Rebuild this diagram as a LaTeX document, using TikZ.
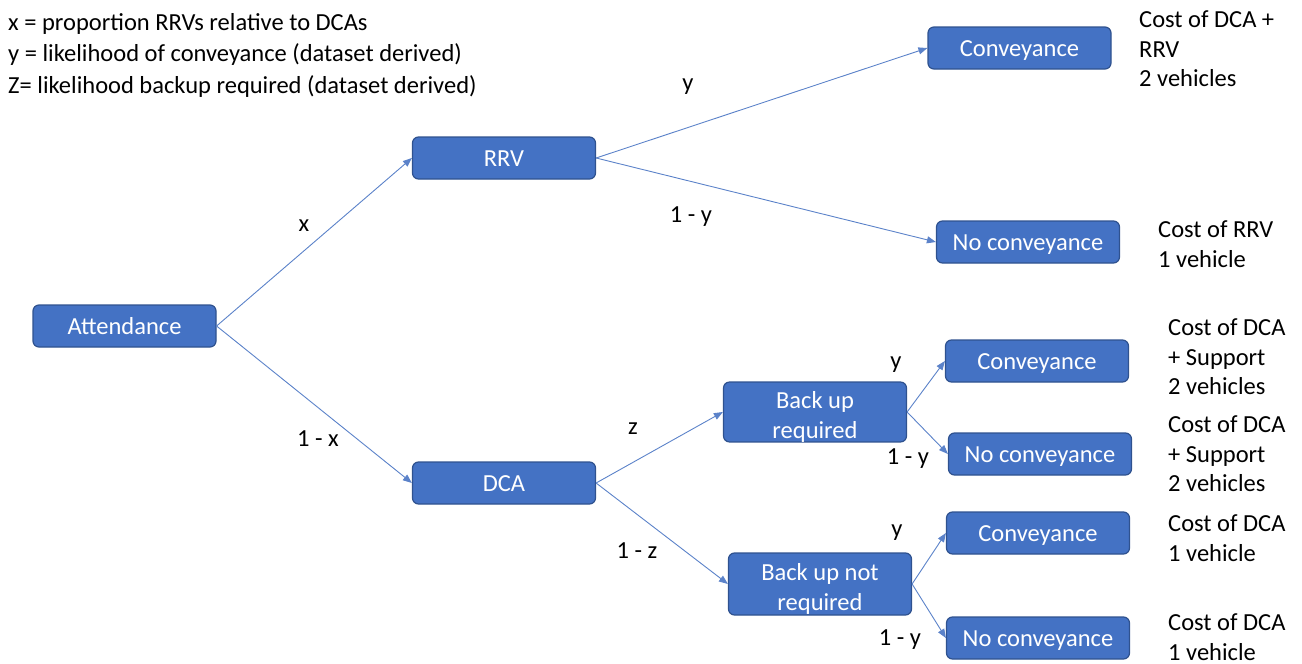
\documentclass[tikz,border=0pt]{standalone}
\usepackage{fontspec}
\setmainfont{Carlito}
\usetikzlibrary{arrows.meta}
\definecolor{boxfill}{HTML}{4472C4}
\definecolor{boxline}{HTML}{2F528F}
\definecolor{edgecol}{HTML}{5B82C9}
\tikzset{
  box/.style={draw=boxline, line width=1.2pt, fill=boxfill, rounded corners=6pt,
    minimum width=183pt, minimum height=42pt, text=white, inner sep=0pt,
    font=\fontsize{24.5}{29}\selectfont, align=center},
  onebox/.style={box, text height=18pt, text depth=2pt},
  edge/.style={draw=edgecol, line width=0.9pt, -{Triangle[length=9pt,width=7pt]}},
  lbl/.style={font=\fontsize{24.5}{29}\selectfont, inner sep=0pt},
  cost/.style={font=\fontsize{24.5}{29.5}\selectfont, inner sep=0pt, anchor=west, align=left},
}
\begin{document}
\begin{tikzpicture}[x=1pt,y=-1pt]
\useasboundingbox (0,0) rectangle (1302,664);
\node[onebox] (att) at (124.5,326) {Attendance};
\node[onebox] (rrv) at (504,158) {RRV};
\node[onebox] (dca) at (504,483) {DCA};
\node[onebox] (c1) at (1019.5,48) {Conveyance};
\node[onebox] (n1) at (1028,242) {No conveyance};
\node[box, minimum height=55pt, font=\fontsize{24.5}{30}\selectfont] (bur) at (815,412) {\rule{0pt}{26pt}Back up\\required};
\node[onebox] (c2) at (1037,361) {Conveyance};
\node[onebox] (n2) at (1040,454) {No conveyance};
\node[box, minimum height=62pt, font=\fontsize{24.5}{30}\selectfont] (bun) at (820,584) {\rule{0pt}{26pt}Back up not\\required};
\node[onebox] (c3) at (1038,533) {Conveyance};
\node[onebox] (n3) at (1038,638) {No conveyance};

\draw[edge] (att.east) -- (rrv.west);
\draw[edge] (att.east) -- (dca.west);
\draw[edge] (rrv.east) -- (c1.west);
\draw[edge] (rrv.east) -- (n1.west);
\draw[edge] (dca.east) -- (bur.west);
\draw[edge] (dca.east) -- (bun.west);
\draw[edge] (bur.east) -- (c2.west);
\draw[edge] (bur.east) -- (n2.west);
\draw[edge] (bun.east) -- (c3.west);
\draw[edge] (bun.east) -- (n3.west);

\node[lbl] (lx) at (304,226) {x};
\node[lbl] (l1x) at (318,439) {1 - x};
\node[lbl] (ly1) at (688,87) {y};
\node[lbl] (l1y1) at (691,217) {1 - y};
\node[lbl] (lz) at (633,429) {z};
\node[lbl] (l1z) at (637,551) {1 - z};
\node[lbl] (ly2) at (896,365) {y};
\node[lbl] (l1y2) at (908,459) {1 - y};
\node[lbl] (ly3) at (897,533) {y};
\node[lbl] (l1y3) at (900,640) {1 - y};

\node[cost] (k1) at (1139,49) {Cost of DCA +\\RRV\\2 vehicles};
\node[cost] (k2) at (1158,244) {Cost of RRV\\1 vehicle};
\node[cost] (k3) at (1168,357) {Cost of DCA\\+ Support\\2 vehicles};
\node[cost] (k4) at (1168,454) {Cost of DCA\\+ Support\\2 vehicles};
\node[cost] (k5) at (1168,538) {Cost of DCA\\1 vehicle};
\node[cost] (k6) at (1168,637) {Cost of DCA\\1 vehicle};

\node[cost, font=\fontsize{24.5}{31.5}\selectfont] (legend) at (8,55) {x = proportion RRVs relative to DCAs\\y = likelihood of conveyance (dataset derived)\\Z= likelihood backup required (dataset derived)};
\end{tikzpicture}
\end{document}
